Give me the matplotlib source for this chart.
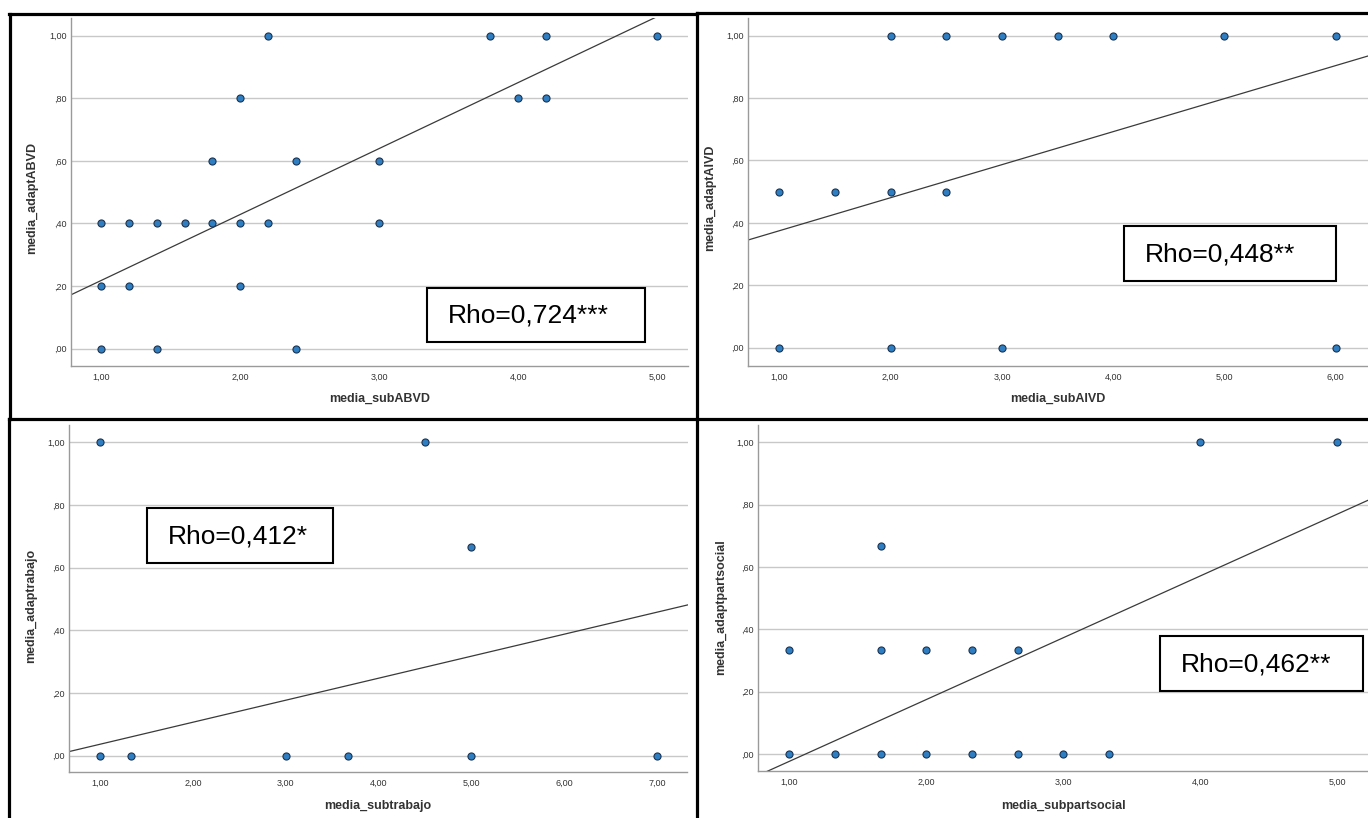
import numpy as np
import matplotlib.pyplot as plt
from matplotlib.lines import Line2D
from matplotlib.patches import Rectangle
from matplotlib.ticker import FuncFormatter

plt.rcParams['font.family'] = ['Liberation Sans', 'DejaVu Sans']

W, H = 1368, 818

# ---- datos ----
abvd_x = [1.0, 1.0, 1.0, 1.2, 1.2, 1.4, 1.4, 1.6, 1.8, 1.8, 2.0, 2.0, 2.0,
          2.2, 2.2, 2.4, 2.4, 3.0, 3.0, 3.8, 4.0, 4.2, 4.2, 5.0]
abvd_y = [0.4, 0.2, 0.0, 0.4, 0.2, 0.4, 0.0, 0.4, 0.6, 0.4, 0.8, 0.4, 0.2,
          1.0, 0.4, 0.6, 0.0, 0.6, 0.4, 1.0, 0.8, 1.0, 0.8, 1.0]
abvd_fit = [0.0078, 0.2105]  # intercepto, pendiente

aivd_x = [1.0, 1.5, 2.0, 2.5, 1.0, 2.0, 3.0, 6.0, 2.0, 2.5, 3.0, 3.5, 4.0, 5.0, 6.0]
aivd_y = [0.5, 0.5, 0.5, 0.5, 0.0, 0.0, 0.0, 0.0, 1.0, 1.0, 1.0, 1.0, 1.0, 1.0, 1.0]
aivd_fit = [0.269, 0.1059]

trab_x = [1.0, 4.5, 5.0, 1.0, 1.333, 3.0, 3.667, 5.0, 7.0]
trab_y = [1.0, 1.0, 0.667, 0.0, 0.0, 0.0, 0.0, 0.0, 0.0]
trab_fit = [-0.0337, 0.0702]

soc_x = [1.0, 1.667, 2.0, 2.333, 2.667, 1.667, 4.0, 5.0,
         1.0, 1.333, 1.667, 2.0, 2.333, 2.667, 3.0, 3.333]
soc_y = [0.333, 0.333, 0.333, 0.333, 0.333, 0.667, 1.0, 1.0,
         0.0, 0.0, 0.0, 0.0, 0.0, 0.0, 0.0, 0.0]
soc_fit = [-0.221, 0.198]

y_ticks = [0.0, 0.2, 0.4, 0.6, 0.8, 1.0]
rho_labels = ['Rho=0,724***', 'Rho=0,448**', 'Rho=0,412*', 'Rho=0,462**']
x_names = ['media_subABVD', 'media_subAIVD', 'media_subtrabajo', 'media_subpartsocial']
y_names = ['media_adaptABVD', 'media_adaptAIVD', 'media_adaptrabajo', 'media_adaptpartsocial']


def spss_fmt(v, pos=None):
    # estilo SPSS: 1,00  ,80  ,00
    s = '%.2f' % v
    s = s.replace('.', ',')
    if s.startswith('0'):
        s = s[1:]
    return s


fig = plt.figure(figsize=(W / 100, H / 100), dpi=100)


def fx(x):
    return x / W


def fy(y):
    return 1 - y / H


def panel(box, xlim, ylim, xt, xs, ys, fit, xname, yname, xlab_pos, ylab_pos, rho, rho_box):
    x0, y0, x1, y1 = box
    ax = fig.add_axes([fx(x0), fy(y1), (x1 - x0) / W, (y1 - y0) / H])
    ax.set_facecolor('white')
    # rejilla horizontal
    for t in y_ticks:
        ax.axhline(t, color='#c8c8c8', lw=1.0, zorder=0)
    # recta de ajuste
    lx = np.array(xlim)
    ax.plot(lx, fit[0] + fit[1] * lx, color='#3a3a3a', lw=0.9, zorder=2)
    ax.scatter(xs, ys, s=26, color='#2f7ec1', edgecolors='#1b3350', linewidths=0.8, zorder=3)
    ax.set_xlim(xlim)
    ax.set_ylim(ylim)
    ax.set_xticks(xt)
    ax.set_yticks(y_ticks)
    ax.xaxis.set_major_formatter(FuncFormatter(spss_fmt))
    ax.yaxis.set_major_formatter(FuncFormatter(spss_fmt))
    ax.tick_params(length=0, labelsize=6.5, labelcolor='#333333')
    ax.tick_params(axis='x', pad=5)
    ax.tick_params(axis='y', pad=3)
    for s in ['top', 'right']:
        ax.spines[s].set_visible(False)
    for s in ['left', 'bottom']:
        ax.spines[s].set_color('#9a9a9a')
        ax.spines[s].set_linewidth(1.0)
    # titulos de ejes
    fig.text(fx(xlab_pos[0]), fy(xlab_pos[1]), xname, ha='center', va='center',
             fontsize=9, fontweight='bold', color='#333333')
    fig.text(fx(ylab_pos[0]), fy(ylab_pos[1]), yname, ha='center', va='center',
             rotation=90, fontsize=9, fontweight='bold', color='#333333')
    # caja Rho
    bx0, by0, bx1, by1 = rho_box
    fig.patches.append(Rectangle((fx(bx0), fy(by1)), (bx1 - bx0) / W, (by1 - by0) / H,
                                 transform=fig.transFigure, facecolor='white',
                                 edgecolor='black', lw=1.5, zorder=5))
    fig.text(fx(bx0 + 21), fy((by0 + by1) / 2 + 1), rho, ha='left', va='center',
             fontsize=19, color='black', zorder=6)
    return ax


panel((70.5, 18.3, 687.5, 366), (0.778, 5.219), (-0.055, 1.055), [1, 2, 3, 4, 5],
      abvd_x, abvd_y, abvd_fit, x_names[0], y_names[0], (380, 399), (32, 198),
      rho_labels[0], (427, 288, 645, 342))

panel((748, 18.3, 1368, 366), (0.717, 6.29), (-0.059, 1.056), [1, 2, 3, 4, 5, 6],
      aivd_x, aivd_y, aivd_fit, x_names[1], y_names[1], (1058, 399), (710, 198),
      rho_labels[1], (1124, 226, 1336, 281))

panel((68.75, 425, 687.5, 772.3), (0.663, 7.33), (-0.053, 1.055), [1, 2, 3, 4, 5, 6, 7],
      trab_x, trab_y, trab_fit, x_names[2], y_names[2], (378, 806), (31, 606),
      rho_labels[2], (147, 508, 333, 563))

panel((758, 425, 1368, 771), (0.771, 5.226), (-0.054, 1.055), [1, 2, 3, 4, 5],
      soc_x, soc_y, soc_fit, x_names[3], y_names[3], (1063, 806), (721, 607),
      rho_labels[3], (1160, 636, 1363, 691))

# marcos negros de las capturas
def frame(xa, ya, xb, yb):
    fig.add_artist(Line2D([fx(xa), fx(xb)], [fy(ya), fy(yb)], color='black',
                          lw=2.3, transform=fig.transFigure, zorder=10))


frame(10, 14, 10, 419)
frame(9, 14, 697, 14)
frame(697, 13, 1368, 13)
frame(697, 13, 697, 818)
frame(9, 419, 1368, 419)
frame(9, 419, 9, 818)

fig.savefig('out.png', dpi=100, facecolor='white')
